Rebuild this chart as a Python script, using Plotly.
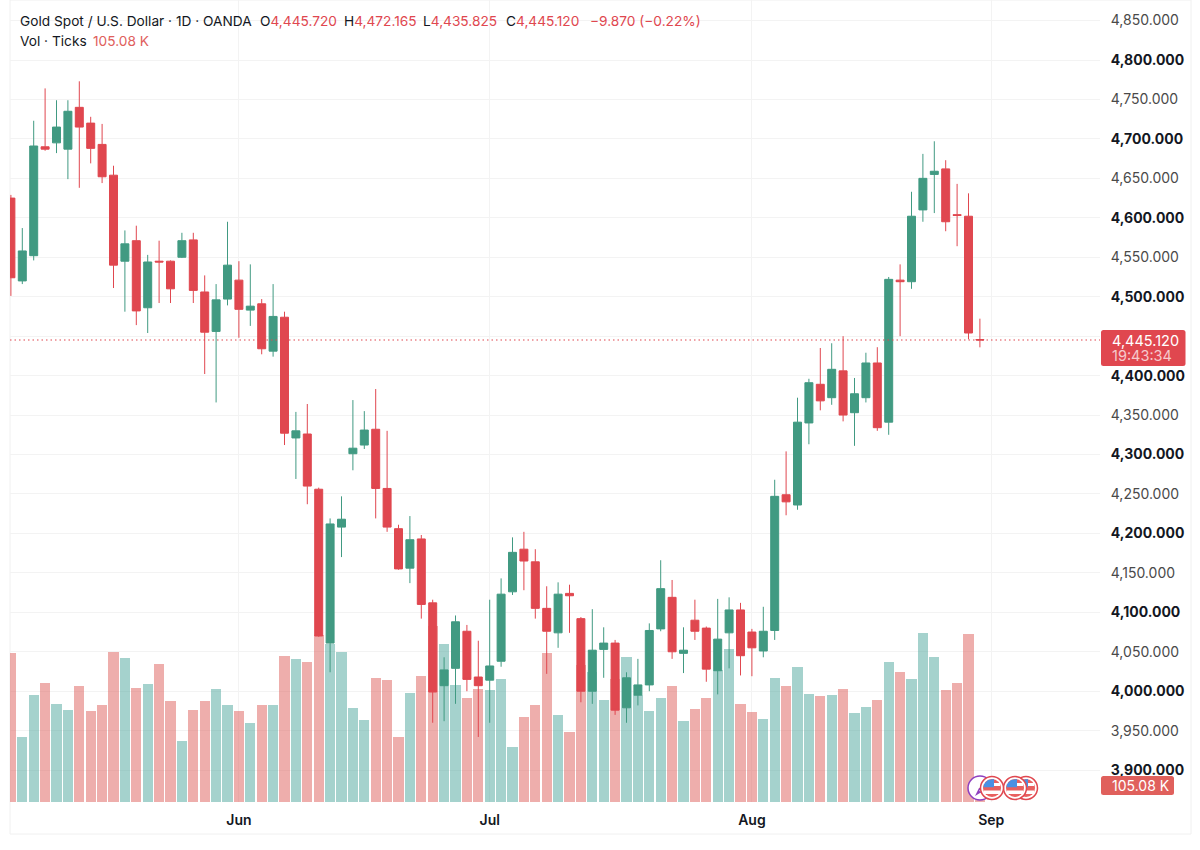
import plotly.graph_objects as go

opens = [4625,4520,4552,4690,4695,4687,4740,4720,4693,4654,4545,4571,4486,4545,4545,4550,4572,4506,4456,4497,
         4521,4483,4491,4431,4474,4321,4326,4256,4061,4208,4301,4312,4332,4257,4206,4156,4193,4112,4007,4029,
         4076,4018,4014,4038,4126,4180,4164,4105,4074,4124,4092,4000,4053,4061,3979,3995,4008,4079,4119,4048,
         4090,4080,4026,4074,4103,4075,4051,4077,4249,4236,4340,4389,4372,4406,4353,4372,4416,4341,4521,4519,
         4610,4655,4662,4604,4602,4445.72]
highs = [4629,4587,4723,4764,4749,4749,4773,4728,4719,4666,4584,4590,4553,4571,4546,4581,4581,4527,4516,4595,
         4545,4541,4497,4516,4481,4354,4364,4258,4219,4247,4369,4355,4383,4330,4211,4222,4198,4116,4043,4096,
         4084,4064,4116,4143,4195,4202,4180,4133,4138,4135,4094,4104,4081,4065,4024,4041,4086,4166,4141,4081,
         4116,4082,4117,4119,4112,4079,4107,4268,4304,4372,4396,4435,4441,4450,4397,4429,4436,4525,4541,4633,
         4681,4697,4673,4643,4631,4472.165]
lows = [4501,4516,4546,4685,4682,4649,4638,4669,4644,4511,4481,4464,4454,4492,4492,4549,4492,4402,4366,4489,
        4448,4463,4427,4424,4312,4269,4237,4069,4024,4170,4280,4307,4219,4202,4154,4137,4092,3960,3962,3984,
        4000,3942,3960,4031,4122,4128,4092,4022,4055,4074,3986,3984,4017,3970,3960,3982,4000,4076,4041,4023,
        4065,4012,3996,4029,4020,4019,4043,4065,4223,4230,4313,4356,4363,4342,4311,4366,4330,4325,4450,4510,
        4595,4606,4583,4564,4446,4435.825]
closes = [4524,4558,4691,4687,4715,4735,4715,4688,4652,4540,4567,4482,4544,4544,4510,4571,4508,4455,4496,4540,
          4484,4488,4434,4475,4327,4330,4260,4070,4212,4218,4308,4331,4257,4208,4155,4192,4110,3999,4027,4088,
          4015,4007,4032,4123,4176,4165,4105,4076,4123,4121,4000,4052,4061,3976,4017,4008,4077,4130,4050,4052,
          4076,4028,4066,4103,4045,4055,4076,4247,4240,4341,4391,4368,4408,4350,4377,4416,4334,4522,4519,4602,
          4650,4659,4595,4603,4454,4445.12]
volumes_k = [921,404,661,737,606,567,719,560,602,927,888,705,729,851,624,379,571,624,700,602,
             564,486,602,602,902,884,863,1030,979,927,583,505,766,754,404,674,779,1086,974,721,
             645,696,692,758,340,523,602,923,538,433,845,803,628,762,898,659,562,643,715,499,
             573,643,814,948,604,554,515,766,715,834,665,653,661,700,552,587,630,867,803,758,
             1046,894,690,733,1036,105.08]
month_positions = [20, 42, 65, 86]
month_labels = ["Jun", "Jul", "Aug", "Sep"]
price_ticks = list(range(3900, 4851, 50))
covered_tick = 4450  # sits under the last-price tag in the reference

UP = "#419A82"
DOWN = "#E0474F"
VOL_TAG = "#E0605C"
VOL_UP = "rgba(66,160,150,0.48)"
VOL_DOWN = "rgba(219,82,78,0.47)"
GRID = "#F3F3F3"
INK = "#131722"
W, H = 1200, 850
FONT = "Inter"


def X(px):
    return px / W


def Y(px):
    return 1 - px / H


def price_label(value):
    if value == covered_tick:
        return ""
    text = f"{value:,.3f}"
    if value % 100 == 0:
        return f"<b>{text}</b>"
    return f'<span style="color:#4a4a4a">{text}</span>'


positions = list(range(len(opens)))
vol_colors = [VOL_UP if c >= o else VOL_DOWN for o, c in zip(opens, closes)]

fig = go.Figure()
fig.add_trace(go.Bar(x=positions, y=volumes_k, width=0.9, marker=dict(color=vol_colors, line=dict(width=0)),
                     yaxis="y", hoverinfo="skip"))
fig.add_trace(go.Candlestick(x=positions, open=opens, high=highs, low=lows, close=closes, yaxis="y2",
                             whiskerwidth=0,
                             increasing=dict(line=dict(color=UP, width=1), fillcolor=UP),
                             decreasing=dict(line=dict(color=DOWN, width=1), fillcolor=DOWN)))

shapes = [
    dict(type="rect", xref="paper", yref="paper", x0=X(10), x1=X(1191), y0=Y(0), y1=Y(834),
         line=dict(color="#F0F0F0", width=1), fillcolor="rgba(0,0,0,0)", layer="below"),
    dict(type="line", xref="paper", yref="y2", x0=X(10), x1=X(1100), y0=closes[-1], y1=closes[-1],
         line=dict(color=DOWN, width=1.2, dash="1.5px,3px")),
]


def poly(points, color):
    d = "M" + " L".join(f"{X(a)},{Y(b)}" for a, b in points) + " Z"
    return dict(type="path", xref="paper", yref="paper", path=d, fillcolor=color, line=dict(width=0))


def circle(cx, cy, r, fill, line_color=None, lw=0):
    return dict(type="circle", xref="paper", yref="paper", x0=X(cx - r), x1=X(cx + r), y0=Y(cy + r), y1=Y(cy - r),
                fillcolor=fill, line=dict(color=line_color or fill, width=lw))


def rounded(x0, y0, x1, y1, r, color):
    d = (f"M{X(x0 + r)},{Y(y0)} L{X(x1 - r)},{Y(y0)} Q{X(x1)},{Y(y0)} {X(x1)},{Y(y0 + r)} "
         f"L{X(x1)},{Y(y1 - r)} Q{X(x1)},{Y(y1)} {X(x1 - r)},{Y(y1)} "
         f"L{X(x0 + r)},{Y(y1)} Q{X(x0)},{Y(y1)} {X(x0)},{Y(y1 - r)} "
         f"L{X(x0)},{Y(y0 + r)} Q{X(x0)},{Y(y0)} {X(x0 + r)},{Y(y0)} Z")
    return dict(type="path", xref="paper", yref="paper", path=d, fillcolor=color, line=dict(width=0))


def flag(cx, cy):
    out = [circle(cx, cy, 11.5, "white", DOWN, 1.5), circle(cx, cy, 9, "#E8605F")]
    for top, bottom, half in [(-5, -2, 8.2), (2.5, 6, 8)]:
        out.append(poly([(cx - half, cy + top), (cx + half, cy + top), (cx + half, cy + bottom), (cx - half, cy + bottom)], "white"))
    out.append(poly([(cx - 8, cy - 4), (cx - 4, cy - 8), (cx + 2, cy - 9), (cx + 2, cy - 0.7), (cx - 8.5, cy - 0.7)], "#4A90E2"))
    return out


# purple event marker, then the flags from back to front
shapes.append(circle(980, 788, 12, "white", "#8E3FBF", 1.5))
shapes.append(poly([(975, 796), (979, 788), (983, 787), (979, 791), (984, 792), (980, 793)], "#8E3FBF"))
for fx in (1026, 1015, 992):
    shapes.extend(flag(fx, 788))

# tags on the price scale
shapes.append(rounded(1101, 330, 1185.5, 366, 2.5, DOWN))
shapes.append(rounded(1101, 776, 1174, 795, 2.5, VOL_TAG))


def label(px, py, text, size=13.7, color=INK):
    return dict(xref="paper", yref="paper", x=X(px), y=Y(py), xanchor="left", yanchor="middle", showarrow=False,
                text=text, align="left", font=dict(family=FONT, size=size, color=color))


def ohlc_item(letter, value):
    return f'<span style="color:{INK}">{letter}</span>{value:,.3f}'


last_change = -9.870
last_pct = -0.22
countdown = "19:43:34"
annotations = [
    label(17.5, 21, "Gold Spot / U.S. Dollar · 1D · OANDA"),
    label(258, 21, ohlc_item("O", opens[-1]), color=DOWN),
    label(342, 21, ohlc_item("H", highs[-1]), color=DOWN),
    label(421, 21, ohlc_item("L", lows[-1]), color=DOWN),
    label(504, 21, ohlc_item("C", closes[-1]), color=DOWN),
    label(588, 21, f"−{abs(last_change):.3f} (−{abs(last_pct):.2f}%)", color=DOWN),
    label(17.5, 41, "Vol · Ticks"),
    label(91, 41, f"{volumes_k[-1]:.2f} K", color=VOL_TAG),
    label(1109.5, 340, f"{closes[-1]:,.3f}", size=14.5, color="white"),
    label(1109.5, 355, countdown, size=14.5, color="rgba(255,255,255,0.72)"),
    label(1109.5, 785.5, f"{volumes_k[-1]:.2f} K", size=14, color="white"),
]

fig.update_layout(
    width=W, height=H, margin=dict(l=0, r=0, t=0, b=0), paper_bgcolor="white", plot_bgcolor="white",
    showlegend=False, dragmode=False, bargap=0, boxgap=0.3, boxgroupgap=0,
    font=dict(family=FONT),
    xaxis=dict(domain=[X(10), X(1100)], range=[-0.079, 95.535], type="linear", rangeslider=dict(visible=False),
               tickvals=month_positions, ticktext=month_labels, showgrid=True, gridcolor=GRID, gridwidth=1,
               zeroline=False, showline=False, ticks="outside", ticklen=5, tickcolor="rgba(0,0,0,0)",
               tickfont=dict(family=FONT, size=14, color=INK, weight=600)),
    yaxis=dict(domain=[Y(802), 1], range=[0, 4956], showgrid=False, zeroline=False, showticklabels=False,
               ticks="", showline=False),
    yaxis2=dict(domain=[Y(802), 1], range=[3859.6, 4876.04], overlaying="y", side="right", anchor="x",
                tickvals=price_ticks, ticktext=[price_label(v) for v in price_ticks], showgrid=True,
                gridcolor=GRID, gridwidth=1, zeroline=False, showline=False, ticks="outside", ticklen=7,
                tickcolor="rgba(0,0,0,0)", tickfont=dict(family=FONT, size=14, color=INK)),
    shapes=shapes, annotations=annotations,
)

fig.write_html("out.html", config=dict(displayModeBar=False),
               post_script="document.body.style.margin='0';document.documentElement.style.overflow='hidden';")
